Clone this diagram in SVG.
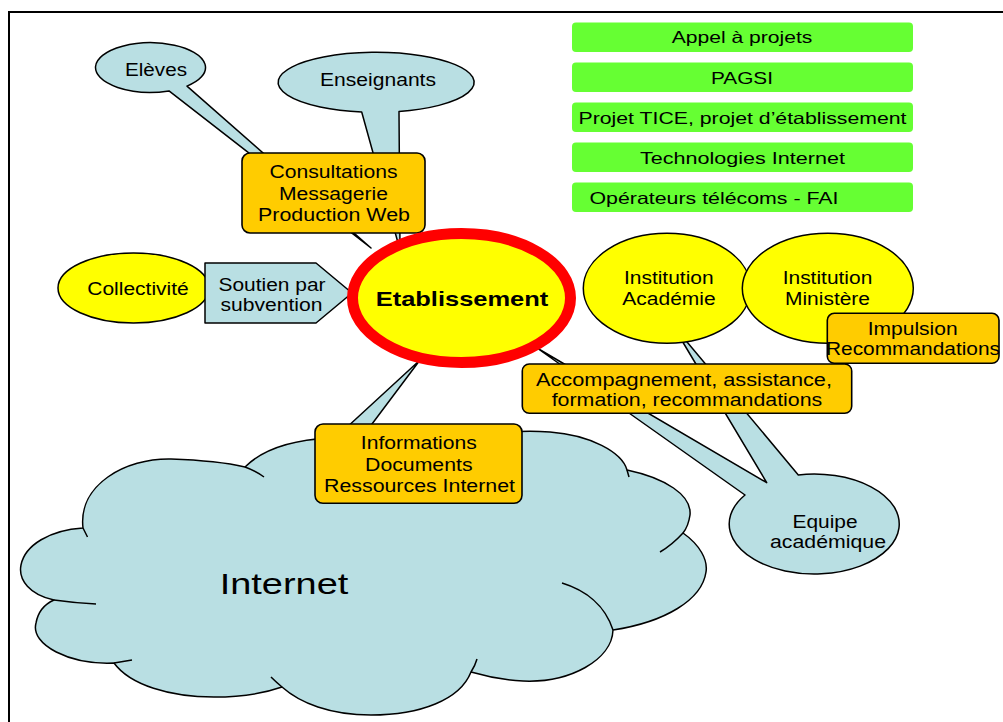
<svg xmlns="http://www.w3.org/2000/svg" width="1003" height="722" viewBox="0 0 1003 722">
<style>
text{font-family:"Liberation Sans",Arial,sans-serif;fill:#000;text-anchor:middle;font-size:17.5px}
.blue{fill:#B9DFE3;stroke:#000;stroke-width:1.5;stroke-linejoin:round}
.yel{fill:#FFFF00;stroke:#000;stroke-width:1.5}
.org{fill:#FFCC00;stroke:#000;stroke-width:1.6}
.grn{fill:#66FF33}
.gt{font-size:16.5px}
.hook{fill:none;stroke:#000;stroke-width:1.5}
</style>
<rect x="9" y="12" width="1100" height="800" fill="#fff" stroke="#000" stroke-width="2"/>

<g id="green-boxes">
<g id="appel"><rect class="grn" x="572" y="22.5" width="341" height="29.5" rx="4"/><text class="gt" x="742" y="43.3" textLength="140.6" lengthAdjust="spacingAndGlyphs">Appel à projets</text></g>
<g id="pagsi"><rect class="grn" x="572" y="62.5" width="341" height="29.5" rx="4"/><text class="gt" x="742" y="84.3" textLength="62" lengthAdjust="spacingAndGlyphs">PAGSI</text></g>
<g id="projet"><rect class="grn" x="572" y="102.5" width="341" height="29.5" rx="4"/><text class="gt" x="742.5" y="124.3" textLength="328" lengthAdjust="spacingAndGlyphs">Projet TICE, projet d’établissement</text></g>
<g id="techno"><rect class="grn" x="572" y="142.5" width="341" height="29.5" rx="4"/><text class="gt" x="742.5" y="164.3" textLength="205" lengthAdjust="spacingAndGlyphs">Technologies Internet</text></g>
<g id="operateurs"><rect class="grn" x="572" y="182.5" width="341" height="29.5" rx="4"/><text class="gt" x="714" y="204.3" textLength="249" lengthAdjust="spacingAndGlyphs">Opérateurs télécoms - FAI</text></g>
</g>

<g id="internet">
<polygon class="blue" points="420,360 320,452 351,452"/>
<path class="blue" d="M 83 528 C 78 485, 125 458, 171 459 C 200 460, 228 463, 245 467 C 262 450, 290 440, 330 438 C 380 436, 420 440, 450 446 C 480 432, 520 430, 550 432 C 590 435, 622 452, 627 470 C 665 478, 692 495, 690 515 C 689 522, 687 528, 683 533 C 700 545, 708 560, 706 572 C 702 600, 665 622, 613 630 C 612 660, 570 683, 523 681 C 505 680, 488 677, 471 672 C 460 700, 420 715, 371 715 C 330 715, 300 703, 282 687 C 262 694, 240 697, 214 697 C 170 697, 130 685, 114 663 C 70 665, 30 645, 36 623 C 38 612, 45 604, 54 600 C 30 595, 18 580, 21 565 C 25 545, 50 530, 83 528 Z"/>
<path class="hook" d="M 245 467 Q 256 471 264 477 M 83 528 Q 85 532 87.5 537 M 54 600 Q 75 603 96 604 M 114 663 L 132 660 M 282 687 Q 276 682 271 677 M 471 672 Q 475 666 477 659 M 613 630 C 605 605, 585 590, 562 583 M 683 533 Q 672 545 660 552 M 627 470 L 629 477"/>
<text x="284" y="594.3" style="font-size:30px" textLength="128.6" lengthAdjust="spacingAndGlyphs">Internet</text>
</g>

<g id="eleves">
<path class="blue" d="M 169 90.9 L 371 248 L 187 86.1 A 55 24.8 0 1 0 169 90.9 Z"/>
<text x="156" y="76" textLength="62" lengthAdjust="spacingAndGlyphs">Elèves</text>
</g>
<g id="enseignants">
<path class="blue" d="M 361.7 112 L 400 250 L 399 111.5 A 98 30 0 1 0 361.7 112 Z"/>
<text x="378" y="86" textLength="116" lengthAdjust="spacingAndGlyphs">Enseignants</text>
</g>

<g id="consultations">
<rect class="org" x="242" y="153" width="183" height="80" rx="8"/>
<text x="333.5" y="178" textLength="128" lengthAdjust="spacingAndGlyphs">Consultations</text>
<text x="333.5" y="200" textLength="109" lengthAdjust="spacingAndGlyphs">Messagerie</text>
<text x="334" y="221" textLength="152" lengthAdjust="spacingAndGlyphs">Production Web</text>
</g>

<g id="equipe">
<path class="blue" d="M 745 495 L 537 348 L 766.7 482.6 L 672 324 L 798.3 474.9 A 85 50 0 1 1 745 495 Z"/>
<text x="825" y="528.3" textLength="65" lengthAdjust="spacingAndGlyphs">Equipe</text>
<text x="828" y="548.3" textLength="116" lengthAdjust="spacingAndGlyphs">académique</text>
</g>

<g id="collectivite">
<ellipse class="yel" cx="133.5" cy="288" rx="75.5" ry="35"/>
<text x="138" y="295" textLength="101.5" lengthAdjust="spacingAndGlyphs">Collectivité</text>
</g>
<g id="soutien">
<polygon class="blue" points="205,263 316,263 352,293 316,323 205,323"/>
<text x="272" y="290.5" textLength="107" lengthAdjust="spacingAndGlyphs">Soutien par</text>
<text x="271.5" y="310.5" textLength="102" lengthAdjust="spacingAndGlyphs">subvention</text>
</g>

<g id="etablissement">
<ellipse cx="461.5" cy="298" rx="109" ry="64.5" fill="#FFFF00" stroke="#FF0000" stroke-width="11"/>
<text x="462" y="305.7" style="font-size:21px;font-weight:bold" textLength="172.6" lengthAdjust="spacingAndGlyphs">Etablissement</text>
</g>

<g id="academie">
<ellipse class="yel" cx="667" cy="288.3" rx="83.7" ry="55"/>
<text x="668.8" y="284.3" textLength="89.7" lengthAdjust="spacingAndGlyphs">Institution</text>
<text x="669" y="305" textLength="93.3" lengthAdjust="spacingAndGlyphs">Académie</text>
</g>
<g id="ministere">
<ellipse class="yel" cx="827.8" cy="288.3" rx="85.5" ry="55"/>
<text x="827.5" y="284.3" textLength="89.6" lengthAdjust="spacingAndGlyphs">Institution</text>
<text x="827.5" y="305" textLength="85" lengthAdjust="spacingAndGlyphs">Ministère</text>
</g>

<g id="impulsion">
<rect class="org" x="827.3" y="313.3" width="171.7" height="50" rx="7"/>
<text x="912.7" y="335" textLength="90" lengthAdjust="spacingAndGlyphs">Impulsion</text>
<text x="913" y="355" textLength="174" lengthAdjust="spacingAndGlyphs">Recommandations</text>
</g>

<g id="accompagnement">
<rect class="org" x="522.3" y="364" width="329.4" height="49.3" rx="7"/>
<text x="684" y="385.7" textLength="296" lengthAdjust="spacingAndGlyphs">Accompagnement, assistance,</text>
<text x="687" y="405.7" textLength="270.6" lengthAdjust="spacingAndGlyphs">formation, recommandations</text>
</g>

<g id="informations">
<rect class="org" x="315" y="424" width="207" height="79.3" rx="8"/>
<text x="418.8" y="449.3" textLength="116" lengthAdjust="spacingAndGlyphs">Informations</text>
<text x="418.8" y="471" textLength="107.5" lengthAdjust="spacingAndGlyphs">Documents</text>
<text x="419.5" y="491.7" textLength="191" lengthAdjust="spacingAndGlyphs">Ressources Internet</text>
</g>
</svg>
